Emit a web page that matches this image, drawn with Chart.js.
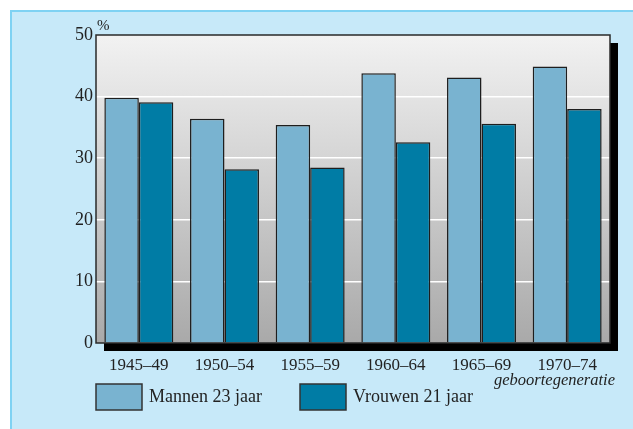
<!DOCTYPE html>
<html>
<head>
<meta charset="utf-8">
<script src="https://cdn.jsdelivr.net/npm/chart.js@4"></script>
<style>
  html, body { margin:0; padding:0; background:#fff; }
  #wrap { width:633px; height:429px; }
</style>
</head>
<body>
<div id="wrap"><canvas id="chart" width="633" height="429"></canvas></div>
<script>
const categories = ["1945–49", "1950–54", "1955–59", "1960–64", "1965–69", "1970–74"];
const mannen = [39.8, 36.4, 35.4, 43.8, 43.1, 44.9];
const vrouwen = [39.1, 28.2, 28.5, 32.6, 35.6, 38.0];
const seriesNames = ["Mannen 23 jaar", "Vrouwen 21 jaar"];
const seriesColors = ["#79b3d0", "#007ca5"];

const SERIF = "'Liberation Serif', 'DejaVu Serif', serif";

// panel, shadow, gradient plot area, frame, legend
const decor = {
  id: "decor",
  beforeDraw(chart) {
    const c = chart.ctx, a = chart.chartArea;
    c.save();
    c.fillStyle = "#c7e9f9";
    c.fillRect(10, 10, 633, 429);
    c.fillStyle = "#7fd2f3";
    c.fillRect(10, 10, 623, 2);
    c.fillRect(10, 10, 2, 419);
    // shadow
    c.fillStyle = "#000";
    c.fillRect(a.left + 8, a.top + 8, a.right - a.left, a.bottom - a.top);
    const g = c.createLinearGradient(0, a.top, 0, a.bottom);
    g.addColorStop(0, "#f2f2f2");
    g.addColorStop(1, "#a9a9a9");
    c.fillStyle = g;
    c.fillRect(a.left, a.top, a.right - a.left, a.bottom - a.top);
    c.restore();
  },
  beforeDatasetsDraw(chart) {
    const c = chart.ctx, a = chart.chartArea;
    c.save();
    c.strokeStyle = "#2a2a2a";
    c.lineWidth = 1.5;
    c.strokeRect(a.left, a.top, a.right - a.left, a.bottom - a.top);
    c.restore();
  },
  afterDraw(chart) {
    const c = chart.ctx, a = chart.chartArea;
    c.save();
    c.fillStyle = "#222";
    c.font = "15px " + SERIF;
    c.textBaseline = "alphabetic";
    c.textAlign = "left";
    c.fillText("%", a.left + 1, 30);
    c.font = "italic 16.5px " + SERIF;
    c.textAlign = "right";
    c.fillText("geboortegeneratie", 615, 385);
    // legend
    const xs = [96, 300];
    c.font = "18px " + SERIF;
    c.textAlign = "left";
    c.textBaseline = "middle";
    chart.data.datasets.forEach((ds, i) => {
      c.fillStyle = ds.backgroundColor;
      c.fillRect(xs[i], 384, 46, 26);
      c.strokeStyle = "#333";
      c.lineWidth = 1.5;
      c.strokeRect(xs[i], 384, 46, 26);
      c.fillStyle = "#222";
      c.fillText(ds.label, xs[i] + 53, 397);
    });
    c.restore();
  }
};

new Chart(document.getElementById("chart"), {
  type: "bar",
  data: {
    labels: categories,
    datasets: [
      { label: seriesNames[0], data: mannen, backgroundColor: seriesColors[0] },
      { label: seriesNames[1], data: vrouwen, backgroundColor: seriesColors[1] }
    ]
  },
  options: {
    responsive: false,
    animation: false,
    layout: { padding: { left: 0, top: 35, right: 23, bottom: 0 } },
    datasets: {
      bar: {
        categoryPercentage: 0.805,
        barPercentage: 1,
        borderColor: "#1e1e1e",
        borderWidth: 1.5
      }
    },
    plugins: {
      legend: { display: false },
      tooltip: { enabled: false }
    },
    scales: {
      x: {
        afterFit(s) { s.height = 86; },
        grid: { display: false, drawTicks: false },
        border: { display: false },
        ticks: { color: "#222", font: { family: SERIF, size: 17 }, padding: 12 }
      },
      y: {
        min: 0, max: 50,
        afterFit(s) { s.width = 96; },
        grid: {
          drawTicks: false,
          lineWidth: 1.5,
          color: ctx => (ctx.tick && ctx.tick.value > 0 && ctx.tick.value < 50) ? "#ffffff" : "rgba(0,0,0,0)"
        },
        border: { display: false },
        ticks: { stepSize: 10, color: "#222", font: { family: SERIF, size: 18 }, padding: 3 }
      }
    }
  },
  plugins: [decor]
});
</script>
</body>
</html>
